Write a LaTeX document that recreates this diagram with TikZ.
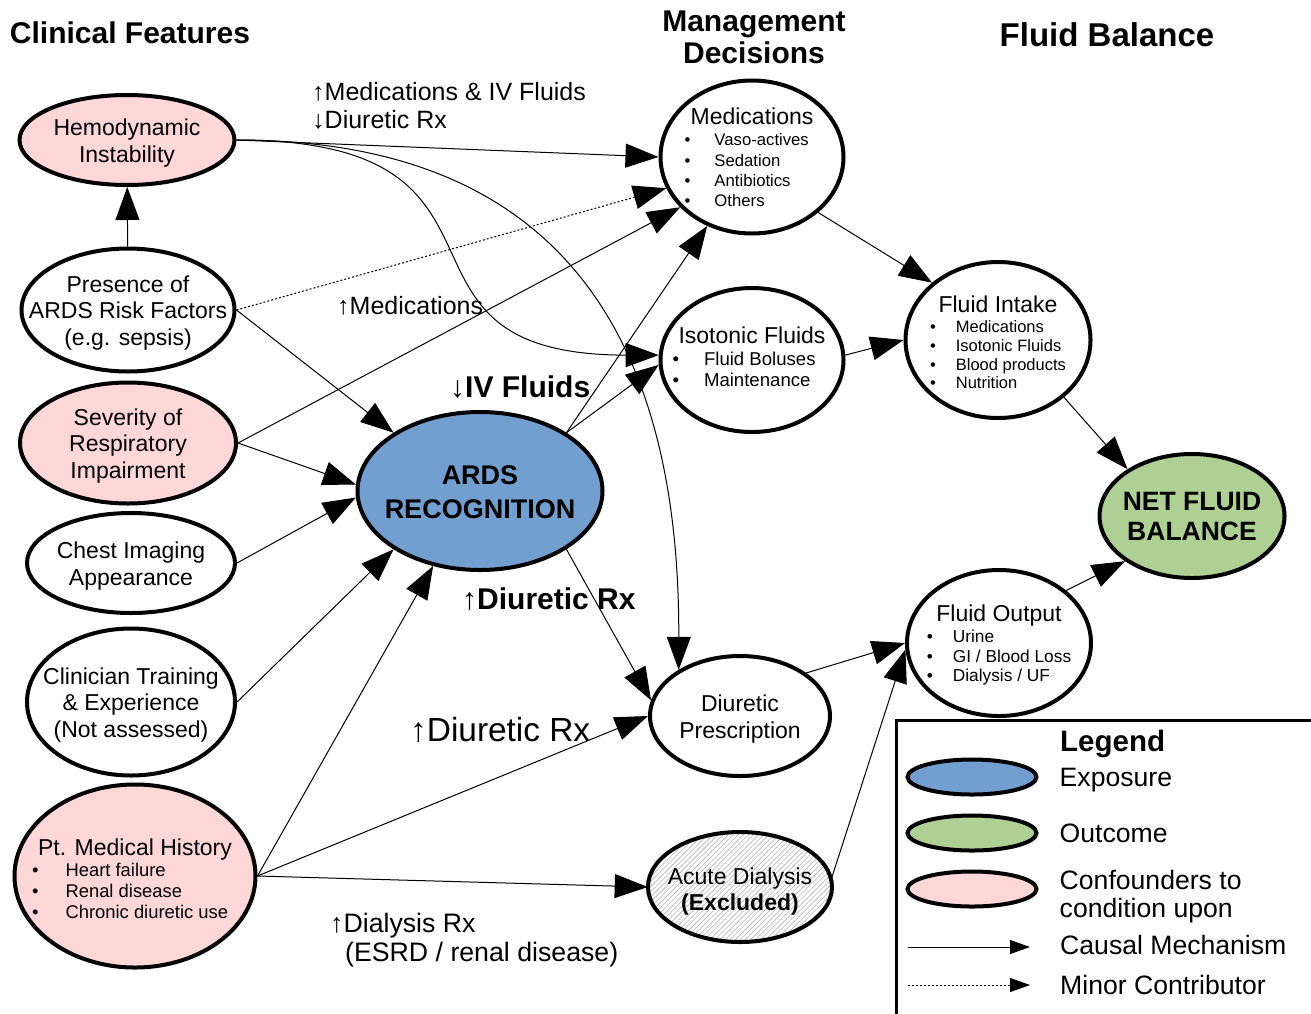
\documentclass[tikz,border=0pt]{standalone}
\usepackage{fontspec}
\setmainfont{Liberation Sans}
\usetikzlibrary{shapes.geometric, arrows.meta, positioning, patterns.meta}
\definecolor{pinkc}{HTML}{FFD7D7}
\definecolor{bluec}{HTML}{729FCF}
\definecolor{greenc}{HTML}{AFD095}
\newcommand{\hdr}[2]{\multicolumn{2}{c}{\fontsize{23}{26.5}\selectfont #2}\\[#1]}
\newcommand{\itm}[1]{\textbullet & #1\\}
\newcommand{\blist}[2]{\begin{tabular}{@{}l@{\hspace{#1}}l@{}}#2\end{tabular}}
\tikzset{
  ell/.style 2 args={ellipse, draw, line width=4pt, minimum width=#1, minimum height=#2, inner sep=0pt},
  lbl/.style={align=center, inner sep=0pt, yshift=-3pt, font=\fontsize{23}{26.5}\selectfont},
  causal/.style={line width=1pt, -{Triangle[length=33pt,width=24pt]}},
  minor/.style={causal, dash pattern=on 2pt off 2pt},
  elabel/.style={anchor=west, align=left, inner sep=0pt, font=\fontsize{25}{28}\selectfont},
  head/.style={align=center, inner sep=0pt, font=\bfseries\fontsize{30}{32}\selectfont},
  legtxt/.style={anchor=west, align=left, inner sep=0pt, font=\fontsize{26.6}{28}\selectfont},
}
\begin{document}
\begin{tikzpicture}[x=1pt, y=-1pt]
  \useasboundingbox (0,0) rectangle (1311,1013);

  \node[head] (h-clin) at (130,33) {Clinical Features};
  \node[head] (h-mgmt) at (754,37) {Management\\Decisions};
  \node[head, font=\bfseries\fontsize{33}{36}\selectfont] (h-bal) at (1107,35) {Fluid Balance};

  \node[ell={215pt}{90pt}, fill=pinkc] (hemo) at (127,140) {};
  \node[ell={213pt}{123pt}] (risk) at (128,310) {};
  \node[ell={216pt}{121pt}, fill=pinkc] (sev) at (128,443) {};
  \node[ell={208pt}{100pt}] (chest) at (131,563) {};
  \node[ell={208pt}{147pt}] (clin) at (131,702) {};
  \node[ell={241pt}{183pt}, fill=pinkc] (hist) at (135,876) {};
  \node[ell={245pt}{158pt}, fill=bluec] (ards) at (480,491) {};
  \node[ell={183pt}{153pt}] (meds) at (752,157) {};
  \node[ell={183pt}{144pt}] (iso) at (752,360) {};
  \node[ell={180pt}{120pt}] (diur) at (740,716) {};
  \node[ell={184pt}{110pt}, pattern={Lines[angle=45,distance=3.6pt,line width=0.6pt]}, pattern color=black!30] (dial) at (740,887) {};
  \node[ell={185pt}{156pt}] (intake) at (998,340) {};
  \node[ell={184pt}{146pt}] (output) at (999,643) {};
  \node[ell={185pt}{124pt}, fill=greenc] (net) at (1192,516) {};

  \node[lbl] (hemo-t) at (hemo) {Hemodynamic\\Instability};
  \node[lbl] (risk-t) at (risk) {Presence of\\ARDS Risk Factors\\(e.g. sepsis)};
  \node[lbl] (sev-t) at (sev) {Severity of\\Respiratory\\Impairment};
  \node[lbl] (chest-t) at (chest) {Chest Imaging\\Appearance};
  \node[lbl] (clin-t) at (clin) {Clinician Training\\\& Experience\\(Not assessed)};
  \node[lbl, yshift=-3pt, font=\fontsize{18.4}{21}\selectfont] (hist-t) at (hist) {\blist{27pt}{\hdr{0pt}{Pt. Medical History}\itm{Heart failure}\itm{Renal disease}\itm{Chronic diuretic use}}};
  \node[lbl, yshift=2pt, font=\bfseries\fontsize{27}{34}\selectfont] (ards-t) at (ards) {ARDS\\RECOGNITION};
  \node[lbl, yshift=-0.5pt, font=\fontsize{16.7}{20.3}\selectfont] (meds-t) at (meds) {\blist{24pt}{\hdr{1pt}{Medications}\itm{Vaso-actives}\itm{Sedation}\itm{Antibiotics}\itm{Others}}};
  \node[lbl, yshift=3pt, font=\fontsize{18.6}{21.5}\selectfont] (iso-t) at (iso) {\blist{25pt}{\hdr{0pt}{Isotonic Fluids}\itm{Fluid Boluses}\itm{Maintenance}}};
  \node[lbl] (diur-t) at (diur) {Diuretic\\Prescription};
  \node[lbl, yshift=-1.5pt] (dial-t) at (dial) {Acute Dialysis\\\textbf{(Excluded)}};
  \node[lbl, yshift=-2pt, font=\fontsize{16.5}{18.7}\selectfont] (intake-t) at (intake) {\blist{20pt}{\hdr{2pt}{Fluid Intake}\itm{Medications}\itm{Isotonic Fluids}\itm{Blood products}\itm{Nutrition}}};
  \node[lbl, font=\fontsize{17.3}{19.5}\selectfont] (output-t) at (output) {\blist{20pt}{\hdr{2pt}{Fluid Output}\itm{Urine}\itm{GI / Blood Loss}\itm{Dialysis / UF}}};
  \node[lbl, yshift=2pt, font=\bfseries\fontsize{26.5}{30}\selectfont] (net-t) at (net) {NET FLUID\\BALANCE};

  \draw[causal] (risk) -- (hemo);
  \draw[causal] (hemo.east) -- (meds.west);
  \draw[causal] (hemo.east) .. controls (549,140) and (361,355) .. (iso.177);
  \draw[causal] (hemo.east) .. controls (480,140) and (680,250) .. (diur.143);
  \draw[minor] (risk.east) -- (meds.200);
  \draw[causal] (risk.east) -- (ards.146);
  \draw[causal] (sev.east) -- (meds.215);
  \draw[causal] (sev.east) -- (ards.177);
  \draw[causal] (chest.east) -- (ards.183);
  \draw[causal] (clin.east) -- (ards.214);
  \draw[causal] (hist.east) -- (ards.238);
  \draw[causal] (hist.east) -- (diur.west);
  \draw[causal] (hist.east) -- (dial.west);
  \draw[causal] (ards.34) -- (meds.237);
  \draw[causal] (ards.34) -- (iso.183);
  \draw[causal] (ards.-34) -- (diur.170);
  \draw[causal] (meds.-40) -- (intake.139);
  \draw[causal] (iso.3) -- (intake.west);
  \draw[causal] (intake.-41) -- (net.144);
  \draw[causal] (diur.33) -- (output.west);
  \draw[causal] (dial.5) -- (output.184);
  \draw[causal] (output.38) -- (net.-146);

  \node[elabel] (lab-hemo) at (312,106) {↑Medications \& IV Fluids\\↓Diuretic Rx};
  \node[elabel] (lab-risk) at (337,306) {↑Medications};
  \node[elabel, font=\bfseries\fontsize{30}{32}\selectfont] (lab-iv) at (450,387) {↓IV Fluids};
  \node[elabel, font=\bfseries\fontsize{30}{32}\selectfont] (lab-diur) at (462,599) {↑Diuretic Rx};
  \node[elabel, font=\fontsize{33.4}{36}\selectfont] (lab-hist) at (410,730) {↑Diuretic Rx};
  \node[elabel, font=\fontsize{26.7}{29}\selectfont] (lab-dial) at (330,940) {↑Dialysis Rx\\\hspace{15pt}(ESRD / renal disease)};

  \draw[line width=3pt] (896,720) rectangle (1316,1018);
  \node[legtxt, font=\bfseries\fontsize{29.5}{32}\selectfont] (leg-title) at (1060,744) {Legend};
  \node[ell={129pt}{35pt}, fill=bluec] (leg-exp) at (972,777) {};
  \node[ell={129pt}{35pt}, fill=greenc] (leg-out) at (972,833) {};
  \node[ell={129pt}{35pt}, fill=pinkc] (leg-conf) at (972,889) {};
  \node[legtxt, right=21pt of leg-exp, yshift=-3pt] (leg-exp-t) {Exposure};
  \node[legtxt, right=21pt of leg-out] (leg-out-t) {Outcome};
  \node[legtxt, right=21pt of leg-conf, yshift=-8pt] (leg-conf-t) {Confounders to\\condition upon};
  \coordinate (leg-c1) at (908,947);
  \coordinate (leg-c2) at (1030,947);
  \coordinate (leg-m1) at (908,985);
  \coordinate (leg-m2) at (1030,985);
  \draw[line width=1pt, -{Triangle[length=20pt,width=14pt]}] (leg-c1) -- (leg-c2);
  \draw[line width=1pt, dash pattern=on 2pt off 2pt, -{Triangle[length=20pt,width=14pt]}] (leg-m1) -- (leg-m2);
  \node[legtxt, right=30pt of leg-c2, yshift=2pt] (leg-c-t) {Causal Mechanism};
  \node[legtxt, right=30pt of leg-m2] (leg-m-t) {Minor Contributor};
\end{tikzpicture}
\end{document}
